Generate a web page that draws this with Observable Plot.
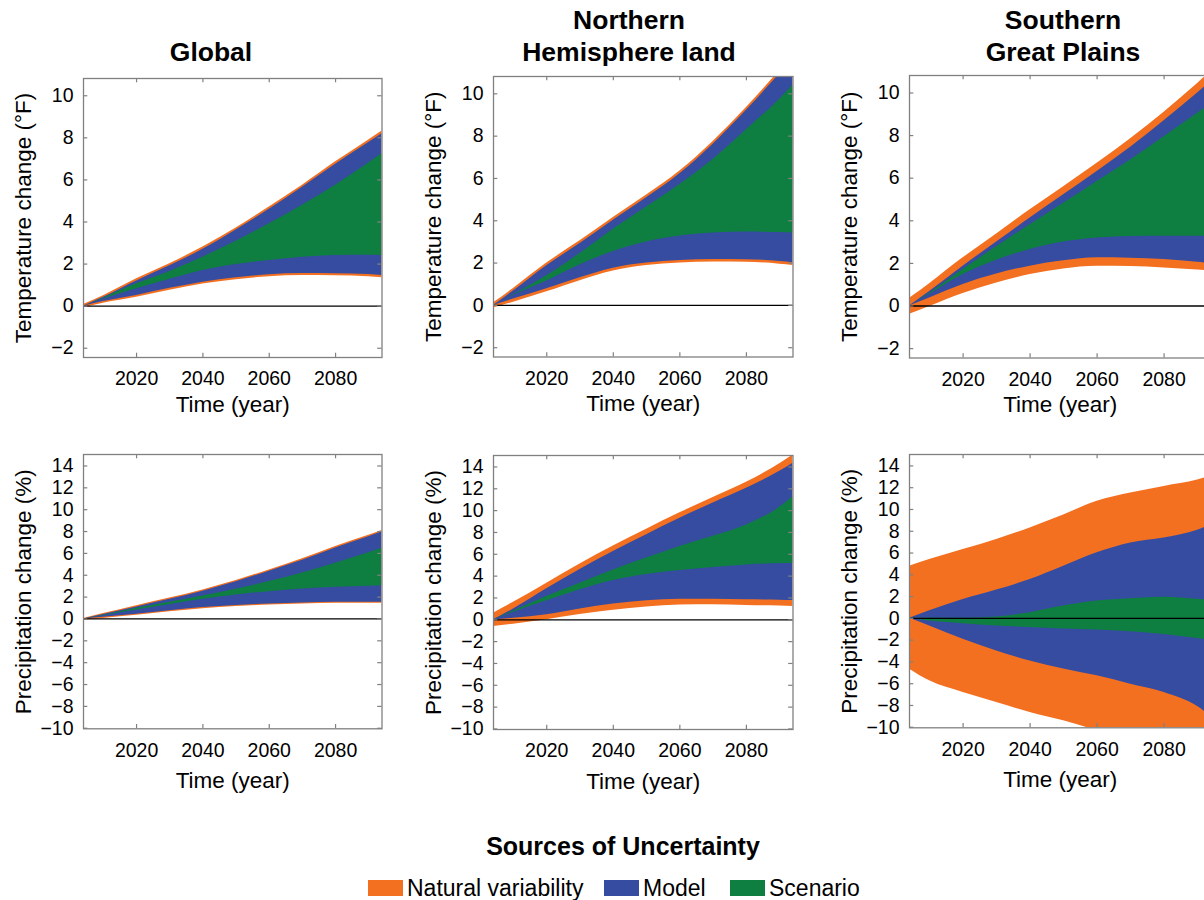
<!DOCTYPE html>
<html><head><meta charset="utf-8">
<script src="https://cdn.jsdelivr.net/npm/d3@7"></script>
<script src="https://cdn.jsdelivr.net/npm/@observablehq/plot@0.6"></script>
<style>
html,body{margin:0;padding:0;background:#fff;overflow:hidden;}
#root{position:relative;width:1204px;height:900px;overflow:hidden;font-family:"Liberation Sans",Arial,Helvetica,sans-serif;color:#000;}
.title{position:absolute;font-weight:bold;font-size:26.5px;line-height:32px;text-align:center;transform:translateX(-50%);white-space:nowrap;}
.ltitle{position:absolute;font-weight:bold;font-size:25px;line-height:30px;transform:translateX(-50%);white-space:nowrap;}
.sw{position:absolute;width:35px;height:16px;}
.lt{position:absolute;font-size:23px;line-height:26px;white-space:nowrap;}
</style>
</head><body><div id="root"></div>
<script>
// ---------- data ----------
const years = [2004, 2010, 2020, 2030, 2040, 2050, 2060, 2070, 2080, 2090, 2094];

// Global temperature change (°F)
const gTempNatHi = [0.08, 0.50, 1.30, 2.02, 2.81, 3.72, 4.71, 5.75, 6.86, 7.90, 8.33];
const gTempModHi = [0.00, 0.42, 1.20, 1.92, 2.70, 3.62, 4.60, 5.65, 6.75, 7.78, 8.20];
const gTempScnHi = [0.00, 0.38, 1.06, 1.65, 2.33, 3.08, 3.92, 4.80, 5.75, 6.80, 7.25];
const gTempScnLo = [0.00, 0.34, 0.83, 1.28, 1.70, 1.98, 2.17, 2.32, 2.41, 2.42, 2.41];
const gTempModLo = [0.00, 0.22, 0.51, 0.85, 1.14, 1.35, 1.49, 1.55, 1.54, 1.50, 1.46];
const gTempNatLo = [-0.08, 0.14, 0.42, 0.76, 1.05, 1.26, 1.40, 1.46, 1.45, 1.40, 1.35];

// Northern Hemisphere land temperature change (°F)
const nTempNatHi = [0.12, 0.80, 2.00, 3.05, 4.15, 5.22, 6.35, 7.75, 9.35, 11.10, 11.80];
const nTempModHi = [0.00, 0.68, 1.87, 2.92, 4.02, 5.09, 6.22, 7.62, 9.22, 10.95, 11.65];
const nTempScnHi = [0.00, 0.50, 1.40, 2.45, 3.60, 4.65, 5.72, 6.90, 8.30, 9.75, 10.41];
const nTempScnLo = [0.00, 0.48, 1.15, 1.92, 2.55, 3.00, 3.28, 3.42, 3.47, 3.44, 3.42];
const nTempModLo = [0.00, 0.30, 0.79, 1.31, 1.76, 2.00, 2.12, 2.17, 2.16, 2.08, 2.02];
const nTempNatLo = [-0.12, 0.15, 0.64, 1.17, 1.62, 1.88, 2.00, 2.05, 2.04, 1.95, 1.89];

// Southern Great Plains temperature change (°F)
const sTempNatHi = [0.36, 1.05, 2.26, 3.38, 4.52, 5.60, 6.70, 7.85, 9.10, 10.45, 11.00];
const sTempModHi = [0.00, 0.68, 1.87, 3.00, 4.13, 5.22, 6.31, 7.45, 8.70, 10.00, 10.55];
const sTempScnHi = [0.00, 0.60, 1.71, 2.78, 3.82, 4.82, 5.84, 6.85, 7.95, 9.05, 9.50];
const sTempScnLo = [0.00, 0.55, 1.48, 2.15, 2.65, 3.00, 3.19, 3.26, 3.27, 3.27, 3.27];
const sTempModLo = [0.00, 0.38, 1.01, 1.50, 1.87, 2.12, 2.26, 2.24, 2.18, 2.05, 2.00];
const sTempNatLo = [-0.39, -0.02, 0.59, 1.08, 1.48, 1.74, 1.87, 1.86, 1.79, 1.69, 1.64];

// Global precipitation change (%)
const gPrecNatHi = [0.05, 0.50, 1.22, 1.92, 2.66, 3.52, 4.49, 5.50, 6.63, 7.65, 8.09];
const gPrecModHi = [0.00, 0.40, 1.10, 1.80, 2.54, 3.40, 4.37, 5.38, 6.50, 7.52, 7.95];
const gPrecScnHi = [0.00, 0.35, 0.98, 1.52, 2.11, 2.72, 3.42, 4.20, 5.10, 6.05, 6.47];
const gPrecScnLo = [0.00, 0.30, 0.82, 1.33, 1.80, 2.20, 2.50, 2.75, 2.90, 3.00, 3.05];
const gPrecModLo = [0.00, 0.15, 0.43, 0.76, 1.04, 1.24, 1.37, 1.47, 1.53, 1.53, 1.53];
const gPrecNatLo = [-0.10, 0.05, 0.33, 0.66, 0.94, 1.14, 1.27, 1.37, 1.43, 1.43, 1.43];

// Northern Hemisphere land precipitation change (%)
const nPrecNatHi = [0.61, 1.60, 3.35, 5.10, 6.75, 8.30, 9.80, 11.20, 12.60, 14.30, 15.10];
const nPrecModHi = [0.00, 1.00, 2.84, 4.60, 6.25, 7.80, 9.30, 10.70, 12.05, 13.60, 14.35];
const nPrecScnHi = [0.00, 0.80, 2.13, 3.35, 4.57, 5.65, 6.71, 7.65, 8.69, 10.30, 11.28];
const nPrecScnLo = [0.00, 0.70, 1.74, 2.75, 3.60, 4.15, 4.51, 4.80, 5.03, 5.15, 5.18];
const nPrecModLo = [0.00, 0.15, 0.46, 1.00, 1.45, 1.75, 1.89, 1.88, 1.83, 1.80, 1.77];
const nPrecNatLo = [-0.61, -0.40, 0.00, 0.48, 0.88, 1.18, 1.35, 1.38, 1.31, 1.26, 1.22];

// Southern Great Plains precipitation change (%)
const sPrecNatHi = [4.79, 5.40, 6.32, 7.25, 8.31, 9.50, 10.75, 11.51, 12.12, 12.70, 13.10];
const sPrecModHi = [0.00, 0.70, 1.74, 2.60, 3.57, 4.79, 6.02, 6.93, 7.39, 8.10, 8.60];
const sPrecScnHi = [0.00, 0.00, 0.00, 0.12, 0.52, 1.13, 1.59, 1.80, 1.95, 1.75, 1.65];
const sPrecScnLo = [0.00, -0.25, -0.49, -0.70, -0.85, -0.97, -1.07, -1.22, -1.47, -1.85, -2.00];
const sPrecModLo = [0.00, -0.70, -1.92, -3.00, -3.91, -4.65, -5.28, -6.05, -6.81, -8.10, -9.00];
const sPrecNatLo = [-4.67, -5.74, -6.81, -7.73, -8.64, -9.40, -10.30, -11.00, -11.70, -12.40, -12.80];

const regionTitles = [["Global"], ["Northern", "Hemisphere land"], ["Southern", "Great Plains"]];
const sources = ["Natural variability", "Model", "Scenario"];
const sourceColors = ["#F37021", "#354CA1", "#0F7F41"];
const legendTitle = "Sources of Uncertainty";
const tempTicks = [-2, 0, 2, 4, 6, 8, 10];
const precipTicks = [-10, -8, -6, -4, -2, 0, 2, 4, 6, 8, 10, 12, 14];
const yearTicks = [2020, 2040, 2060, 2080];
const tempLabel = "Temperature change (°F)";
const precipLabel = "Precipitation change (%)";
const timeLabel = "Time (year)";

// ---------- drawing ----------
const root = document.getElementById("root");
const FONT = '"Liberation Sans", Arial, Helvetica, sans-serif';
const GRAY = "#808080";
const xDomain = [2004, 2094];
const tempDomain = [-2.44, 10.82];
const precipDomain = [-10.05, 15.05];

function panel(series, {yDomain, yTicks, yLabel, left, top, w, h, xLabelDy}) {
  const rows = years.map((year, i) => ({
    year,
    natHi: series[0][i], modHi: series[1][i], scnHi: series[2][i],
    scnLo: series[3][i], modLo: series[4][i], natLo: series[5][i]
  }));
  const tx = 4.3 * (xDomain[1] - xDomain[0]) / w;
  const ty = 4.3 * (yDomain[1] - yDomain[0]) / h;
  const ML = 90, MR = 15, MT = 10, MB = 75;
  const svg = Plot.plot({
    width: w + ML + MR, height: h + MT + MB,
    marginLeft: ML, marginRight: MR, marginTop: MT, marginBottom: MB,
    x: {domain: xDomain},
    y: {domain: yDomain},
    style: {fontFamily: FONT, fontSize: "19.5px", color: "#000", background: "transparent", overflow: "visible"},
    marks: [
      Plot.areaY(rows, {x: "year", y1: "natLo", y2: "natHi", fill: sourceColors[0], curve: "monotone-x", clip: true}),
      Plot.areaY(rows, {x: "year", y1: "modLo", y2: "modHi", fill: sourceColors[1], curve: "monotone-x", clip: true}),
      Plot.areaY(rows, {x: "year", y1: "scnLo", y2: "scnHi", fill: sourceColors[2], curve: "monotone-x", clip: true}),
      Plot.ruleY([0], {stroke: "#000", strokeWidth: 1.3}),
      Plot.ruleY(yTicks, {x1: xDomain[0], x2: xDomain[0] + tx, stroke: GRAY, strokeWidth: 1.2}),
      Plot.ruleY(yTicks, {x1: xDomain[1] - tx, x2: xDomain[1], stroke: GRAY, strokeWidth: 1.2}),
      Plot.ruleX(yearTicks, {y1: yDomain[0], y2: yDomain[0] + ty, stroke: GRAY, strokeWidth: 1.2}),
      Plot.ruleX(yearTicks, {y1: yDomain[1] - ty, y2: yDomain[1], stroke: GRAY, strokeWidth: 1.2}),
      Plot.axisY(yTicks, {tickSize: 0, tickPadding: 10, fontSize: 19.5, label: null}),
      Plot.axisX(yearTicks, {tickSize: 0, tickPadding: 14, fontSize: 19.5, label: null, tickFormat: d => String(d)}),
      Plot.text([yLabel], {text: d => d, frameAnchor: "left", textAnchor: "middle", dx: -60, rotate: -90, fontSize: 22.5}),
      Plot.text([timeLabel], {text: d => d, frameAnchor: "bottom", textAnchor: "middle", dy: xLabelDy, fontSize: 22.5}),
      Plot.frame({stroke: GRAY, strokeWidth: 1.3})
    ]
  });
  svg.style.position = "absolute";
  svg.style.left = (left - ML) + "px";
  svg.style.top = (top - MT) + "px";
  root.appendChild(svg);
}

const tempOpts = {yDomain: tempDomain, yTicks: tempTicks, yLabel: tempLabel, xLabelDy: 54};
const precOpts = {yDomain: precipDomain, yTicks: precipTicks, yLabel: precipLabel, xLabelDy: 59};

panel([gTempNatHi, gTempModHi, gTempScnHi, gTempScnLo, gTempModLo, gTempNatLo], {...tempOpts, left: 82.7, top: 78, w: 298.5, h: 279});
panel([nTempNatHi, nTempModHi, nTempScnHi, nTempScnLo, nTempModLo, nTempNatLo], {...tempOpts, left: 492.7, top: 76, w: 299.5, h: 280.5});
panel([sTempNatHi, sTempModHi, sTempScnHi, sTempScnLo, sTempModLo, sTempNatLo], {...tempOpts, left: 909.3, top: 74.5, w: 301.5, h: 282.5});
panel([gPrecNatHi, gPrecModHi, gPrecScnHi, gPrecScnLo, gPrecModLo, gPrecNatLo], {...precOpts, left: 82.7, top: 454, w: 298.5, h: 274.3});
panel([nPrecNatHi, nPrecModHi, nPrecScnHi, nPrecScnLo, nPrecModLo, nPrecNatLo], {...precOpts, left: 492.7, top: 455, w: 299.5, h: 274});
panel([sPrecNatHi, sPrecModHi, sPrecScnHi, sPrecScnLo, sPrecModLo, sPrecNatLo], {...precOpts, left: 909.3, top: 454, w: 301.5, h: 273.3});

// titles
const titleCenters = [211, 629, 1063];
const titleTops = [36, 4, 4];
regionTitles.forEach((lines, i) => {
  const d = document.createElement("div");
  d.className = "title";
  d.style.left = titleCenters[i] + "px";
  d.style.top = titleTops[i] + "px";
  d.innerHTML = lines.join("<br>");
  root.appendChild(d);
});

// legend
const lt = document.createElement("div");
lt.className = "ltitle";
lt.style.left = "623px"; lt.style.top = "831px";
lt.textContent = legendTitle;
root.appendChild(lt);
const swatchLefts = [368, 604, 730];
sources.forEach((s, i) => {
  const sw = document.createElement("div");
  sw.className = "sw";
  sw.style.left = swatchLefts[i] + "px"; sw.style.top = "880px";
  sw.style.background = sourceColors[i];
  root.appendChild(sw);
  const t = document.createElement("div");
  t.className = "lt";
  t.style.left = (swatchLefts[i] + 39) + "px"; t.style.top = "875px";
  t.textContent = s;
  root.appendChild(t);
});
</script>
</body></html>
